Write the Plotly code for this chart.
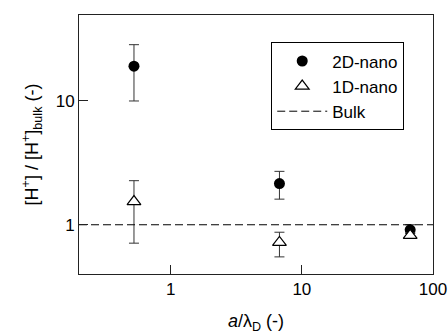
import plotly.graph_objects as go
import math

# Data
x_vals = [0.525, 6.75, 67.0]
nano2d_y = [19.1, 2.15, 0.91]
nano2d_up = [28.5, 2.70, 1.00]
nano2d_lo = [10.0, 1.61, 0.85]
nano1d_y = [1.54, 0.72, 0.82]
nano1d_up = [2.27, 0.87, 0.86]
nano1d_lo = [0.71, 0.55, 0.78]
bulk_x = [0.2, 100]
bulk_y = [1, 1]
x_ticks = [1, 10, 100]
x_ticklabels = ["1", "10", "100"]
y_ticks = [1, 10]
y_ticklabels = ["1", "10"]

def plus(v, u):
    return [a - b for a, b in zip(u, v)]

def minus(v, l):
    return [b - a for a, b in zip(l, v)]

FONT = "Liberation Sans, Arial, sans-serif"
ERRC = "#333333"

fig = go.Figure()
fig.add_trace(go.Scatter(
    x=x_vals, y=nano2d_y, mode="markers", name="2D-nano",
    marker=dict(symbol="circle", size=11, color="black"),
    error_y=dict(type="data", symmetric=False, array=plus(nano2d_y, nano2d_up),
                 arrayminus=minus(nano2d_y, nano2d_lo), color=ERRC, thickness=1, width=5),
))
fig.add_trace(go.Scatter(
    x=x_vals, y=nano1d_y, mode="markers", name="1D-nano",
    marker=dict(symbol="triangle-up", size=12, color="white", line=dict(color="black", width=1.2)),
    error_y=dict(type="data", symmetric=False, array=plus(nano1d_y, nano1d_up),
                 arrayminus=minus(nano1d_y, nano1d_lo), color=ERRC, thickness=1, width=5),
))
fig.add_trace(go.Scatter(
    x=bulk_x, y=bulk_y, mode="lines", name="Bulk",
    line=dict(color="black", width=1, dash="8px,4px"),
))

axis_common = dict(
    type="log", showgrid=False, zeroline=False, showline=True, linecolor="#222222",
    linewidth=1, mirror=True, ticks="inside", ticklen=9, tickcolor="#222222",
    tickfont=dict(family=FONT, size=17, color="black"), automargin=False,
)

fig.update_xaxes(
    **axis_common, range=[math.log10(0.2), 2], tickvals=x_ticks, ticktext=x_ticklabels,
    title=dict(text="<i>a</i>/λ<sub>D</sub> (-)", font=dict(family=FONT, size=18, color="black"), standoff=25),
)
fig.update_yaxes(
    **axis_common, range=[math.log10(0.4), math.log10(49.5)], tickvals=y_ticks, ticktext=y_ticklabels,
    title=dict(text="[H<sup>+</sup>] / [H<sup>+</sup>]<sub>bulk</sub> (-)", font=dict(family=FONT, size=18, color="black"), standoff=12),
)

fig.update_layout(
    width=448, height=334,
    margin=dict(l=79, r=15, t=15, b=60),
    plot_bgcolor="white", paper_bgcolor="white",
    font=dict(family=FONT, size=17, color="black"),
    legend=dict(x=0.543, y=0.894, xanchor="left", yanchor="top",
                bordercolor="black", borderwidth=1, bgcolor="white",
                font=dict(family=FONT, size=17, color="black"),
                itemwidth=50),
    showlegend=True,
)

fig.write_html("out.html", config={"displayModeBar": False},
               post_script="document.body.style.margin='0';document.body.style.overflow='hidden';")
